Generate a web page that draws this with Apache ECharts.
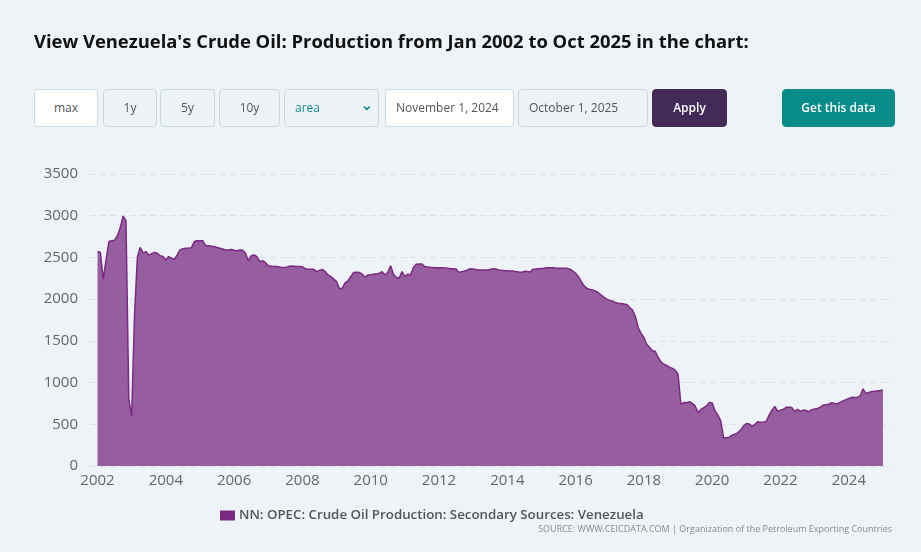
<!DOCTYPE html>
<html>
<head>
<meta charset="utf-8">
<script src="https://cdn.jsdelivr.net/npm/echarts@6/dist/echarts.min.js"></script>
<style>
  html, body { margin: 0; padding: 0; background: #eef3f7; font-family: "Open Sans", sans-serif; }
  #page { position: relative; width: 921px; height: 552px; overflow: hidden; }
  #chart { position: absolute; left: 0; top: 0; width: 921px; height: 552px; }
  h1 { position: absolute; left: 34px; top: 28px; margin: 0; font-size: 18.4px; font-weight: 700; color: #111; white-space: nowrap; }
  .btn { position: absolute; top: 89px; height: 36px; border: 1px solid #cbd9e3; border-radius: 4px;
         background: #edf2f6; color: #555; font-size: 12px; line-height: 36px; text-align: center; box-sizing: content-box; }
  .white { background: #fff; }
  .left { text-align: left; padding-left: 10px; }
</style>
</head>
<body>
<div id="page">
  <div id="chart"></div>
  <h1>View Venezuela's Crude Oil: Production from Jan 2002 to Oct 2025 in the chart:</h1>
  <div class="btn white" style="left:34px;width:62px;">max</div>
  <div class="btn" style="left:103px;width:52px;">1y</div>
  <div class="btn" style="left:160px;width:53px;">5y</div>
  <div class="btn" style="left:219px;width:59px;">10y</div>
  <div class="btn left" style="left:284px;width:83px;color:#138a8a;">area
    <span style="position:absolute;right:5px;top:-3px;font-size:14px;font-weight:700;color:#138a8a;">&#8964;</span></div>
  <div class="btn white left" style="left:385px;width:117px;">November 1, 2024</div>
  <div class="btn left" style="left:518px;width:118px;">October 1, 2025</div>
  <div class="btn" style="left:652px;width:73px;background:#432a59;border-color:#432a59;color:#fff;font-weight:600;">Apply</div>
  <div class="btn" style="left:782px;width:111px;background:#088b8b;border-color:#088b8b;color:#fff;font-weight:600;">Get this data</div>
</div>
<script>
// monthly values, Jan 2002 .. Jan 2025 (thousand barrels per day)
var v2002 = [2570, 2560, 2240, 2470, 2690, 2700, 2705, 2760, 2860, 2995, 2940, 800];
var v2003 = [600, 1800, 2500, 2620, 2555, 2570, 2530, 2545, 2560, 2550, 2520, 2510];
var v2004 = [2470, 2510, 2490, 2475, 2530, 2590, 2605, 2610, 2612, 2615, 2690, 2700];
var v2005 = [2700, 2700, 2640, 2640, 2635, 2630, 2620, 2610, 2600, 2590, 2590, 2595];
var v2006 = [2585, 2580, 2590, 2585, 2550, 2460, 2520, 2530, 2510, 2450, 2460, 2440];
var v2007 = [2400, 2395, 2390, 2392, 2385, 2380, 2378, 2390, 2397, 2395, 2390, 2390];
var v2008 = [2388, 2365, 2360, 2358, 2357, 2330, 2345, 2357, 2330, 2290, 2270, 2240];
var v2009 = [2210, 2125, 2130, 2195, 2220, 2270, 2320, 2322, 2320, 2300, 2262, 2290];
var v2010 = [2292, 2300, 2300, 2310, 2329, 2290, 2320, 2400, 2297, 2260, 2250, 2330];
var v2011 = [2270, 2300, 2290, 2380, 2417, 2421, 2420, 2390, 2385, 2380, 2378, 2377];
var v2012 = [2377, 2375, 2372, 2369, 2365, 2363, 2361, 2321, 2330, 2337, 2350, 2365];
var v2013 = [2362, 2355, 2350, 2349, 2349, 2350, 2355, 2365, 2362, 2350, 2345, 2341];
var v2014 = [2340, 2338, 2337, 2330, 2325, 2321, 2333, 2330, 2325, 2357, 2360, 2365];
var v2015 = [2368, 2370, 2375, 2377, 2375, 2372, 2370, 2370, 2369, 2369, 2360, 2337];
var v2016 = [2310, 2270, 2209, 2160, 2129, 2115, 2109, 2095, 2077, 2050, 2021, 2000];
var v2017 = [1985, 1975, 1960, 1950, 1949, 1941, 1937, 1900, 1870, 1790, 1660, 1590];
var v2018 = [1540, 1460, 1420, 1382, 1375, 1300, 1250, 1220, 1205, 1185, 1170, 1150];
var v2019 = [1100, 740, 760, 758, 770, 750, 720, 640, 675, 700, 720, 760];
var v2020 = [755, 660, 610, 540, 340, 340, 345, 370, 380, 400, 430, 480];
var v2021 = [510, 505, 475, 500, 530, 523, 528, 535, 610, 670, 715, 655];
var v2022 = [670, 680, 703, 705, 700, 655, 680, 655, 670, 665, 652, 675];
var v2023 = [682, 690, 705, 730, 735, 740, 758, 750, 745, 765, 780, 795];
var v2024 = [810, 823, 822, 825, 840, 925, 870, 880, 890, 895, 900, 905];
var v2025 = [912];

var startYear = 2002;
var yearTicks = [2002, 2004, 2006, 2008, 2010, 2012, 2014, 2016, 2018, 2020, 2022, 2024];
var seriesName = 'NN: OPEC: Crude Oil Production: Secondary Sources: Venezuela';

var allValues = [].concat(v2002, v2003, v2004, v2005, v2006, v2007, v2008, v2009, v2010,
  v2011, v2012, v2013, v2014, v2015, v2016, v2017, v2018, v2019, v2020, v2021, v2022,
  v2023, v2024, v2025);
var points = allValues.map(function (v, i) { return [startYear + i / 12, v]; });

var myChart = echarts.init(document.getElementById('chart'));
var option = {
  animation: false,
  textStyle: { fontFamily: 'Open Sans' },
  title: {
    text: 'SOURCE: WWW.CEICDATA.COM | Organization of the Petroleum Exporting Countries',
    right: 24, top: 520,
    textStyle: { fontSize: 9, fontWeight: 'normal', color: '#8a8a8a' }
  },
  legend: {
    data: [seriesName],
    left: 215, top: 504,
    itemWidth: 15, itemHeight: 10, itemGap: 4,
    icon: 'rect',
    textStyle: { fontSize: 13.3, fontWeight: 600, color: '#555', padding: [0, 0, 0, -1] }
  },
  grid: { left: 90, right: 29, top: 174, bottom: 86, containLabel: false },
  xAxis: {
    type: 'value',
    min: 2001.78,
    max: 2025.265,
    axisLine: { show: false },
    axisTick: { show: false },
    splitLine: { show: false },
    axisLabel: {
      customValues: yearTicks,
      fontSize: 15,
      color: '#666',
      margin: 7,
      formatter: function (v) { return String(Math.round(v)); }
    }
  },
  yAxis: {
    type: 'value',
    min: 0, max: 3500, interval: 500,
    axisLine: { show: false },
    axisTick: { show: false },
    axisLabel: { fontSize: 15, color: '#666', margin: 12, formatter: function (v) { return String(v); } },
    splitLine: { lineStyle: { color: '#dce2e8', type: [6, 4], width: 1 } }
  },
  series: [{
    name: seriesName,
    type: 'line',
    data: points,
    showSymbol: false,
    color: '#7b2a83',
    lineStyle: { color: '#7b2a83', width: 1.5 },
    areaStyle: { color: '#965e9e', opacity: 1 }
  }]
};
myChart.setOption(option);
</script>
</body>
</html>
